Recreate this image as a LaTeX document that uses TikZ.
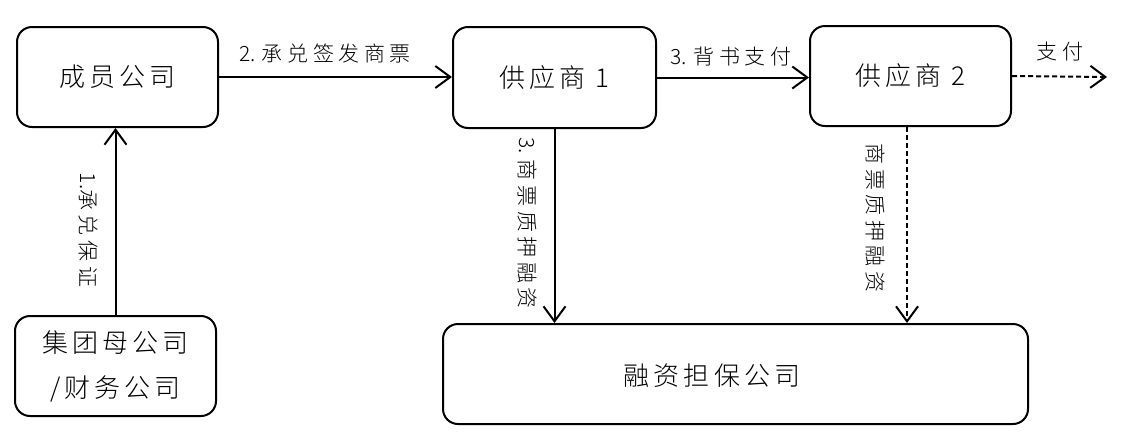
\documentclass[tikz,border=0pt]{standalone}
\usepackage{fontspec}
\newfontfamily\cjkbox{Noto Sans CJK SC}[UprightFont={* Light},LetterSpace=16]
\newfontfamily\cjklab{Noto Sans CJK SC}[UprightFont={* Light},LetterSpace=22]
\newfontfamily\cjkplain{Noto Sans CJK SC}[UprightFont={* Light}]
\newcommand\numpre[1]{{\cjkplain #1}}
\usetikzlibrary{arrows.meta}
\begin{document}
\begin{tikzpicture}[x=1pt,y=-1pt,
  box/.style={draw, line width=2pt, rounded corners=15pt, minimum width=201pt, minimum height=100pt, inner sep=0pt},
  boxtext/.style={font={\cjkbox\fontsize{26}{45}\selectfont}, align=center},
  lab/.style={font={\cjklab\fontsize{21}{21}\selectfont}, inner sep=0pt},
  arr/.style={line width=2pt, -{Straight Barb[length=15pt,width=22pt,line width=2pt]}},
  dline/.style={dash pattern=on 5pt off 3pt}
]
\useasboundingbox[fill=white] (0,0) rectangle (1132,440);
% boxes
\node[box, boxtext] (cy) at (117.5,77) {成员公司};
\node[box, boxtext] (jt) at (115.5,366) {集团母公司\\/财务公司};
\node[box, boxtext, minimum width=203pt, minimum height=101pt] (g1) at (554.5,77.5) {供应商 1};
\node[box, boxtext] (g2) at (910.5,76) {供应商 2};
\node[box, minimum width=585pt] (rz) at (735.5,374) {};
\node[boxtext] (rzt) at (712,376) {融资担保公司};
\coordinate (pay) at (1107,77);
% arrows
\draw[arr] (jt.north) -- (jt.north |- cy.south);
\draw[arr] (cy.east) -- (cy.east -| g1.west);
\draw[arr] (g1.east) -- (g1.east -| g2.west);
\draw[arr, dline] (g2.east) -- (pay);
\draw[arr] (g1.south) -- (g1.south |- rz.north);
\draw[arr, dline] ([xshift=-3.5pt]g2.south) -- ([xshift=-3.5pt]g2.south |- rz.north);
% labels
\node[lab] (l2) at (325,54) {\numpre{2. }承兑签发商票};
\node[lab] (l3) at (731,57) {\numpre{3. }背书支付};
\node[lab] (lpay) at (1060,52) {支付};
\node[lab, rotate=-90] (l1) at (88,230) {\numpre{1.}承兑保证};
\node[lab, rotate=-90] (l3b) at (527,223) {\numpre{3. }商票质押融资};
\node[lab, rotate=-90] (l4) at (875,218) {商票质押融资};
\end{tikzpicture}
\end{document}
